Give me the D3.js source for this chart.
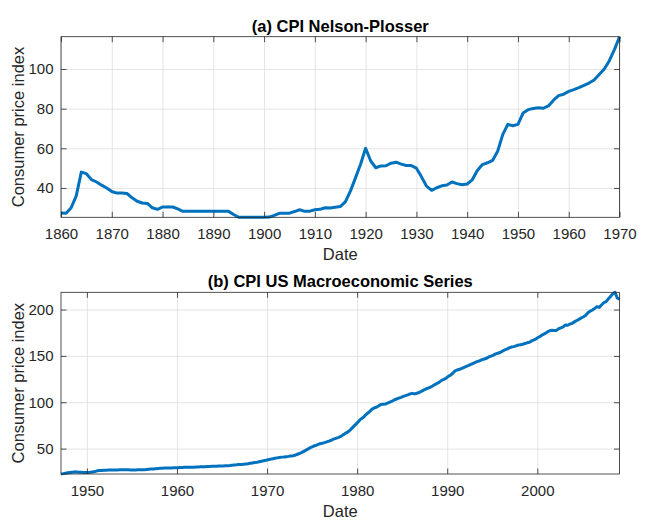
<!DOCTYPE html>
<html>
<head>
<meta charset="utf-8">
<script src="https://cdn.jsdelivr.net/npm/d3@7"></script>
<style>
  html, body { margin: 0; padding: 0; background: #fff; }
  svg { display: block; font-family: "Liberation Sans", Arial, Helvetica, sans-serif; }
</style>
</head>
<body>
<svg id="chart" width="650" height="526"></svg>
<script>
// ---------------- DATA ----------------
// (a) Nelson-Plosser annual CPI, 1860..1970
const npStartYear = 1860;
const npCPI = [
  27.4, 27.2, 30.0, 36.0, 48.0, 47.2, 44.2, 43.0, 41.4, 40.0,   // 1860-1869
  38.2, 37.4, 37.4, 37.2, 35.0, 33.3, 32.4, 32.2, 30.0, 29.2,   // 1870-1879
  30.4, 30.4, 30.4, 29.4, 28.2, 28.2, 28.2, 28.2, 28.2, 28.2,   // 1880-1889
  28.2, 28.2, 28.2, 28.2, 26.6, 25.2, 25.2, 25.2, 25.2, 25.2,   // 1890-1899
  25.2, 25.3, 26.2, 27.2, 27.2, 27.3, 28.1, 29.0, 28.2, 28.3,   // 1900-1909
  29.0, 29.2, 30.0, 29.9, 30.3, 30.6, 33.0, 38.4, 45.1, 52.0,   // 1910-1919
  60.0, 53.6, 50.2, 51.1, 51.2, 52.5, 53.0, 52.0, 51.3, 51.3,   // 1920-1929
  50.0, 45.6, 40.9, 38.8, 40.1, 41.1, 41.5, 43.0, 42.2, 41.6,   // 1930-1939
  42.0, 44.1, 48.8, 51.8, 52.7, 53.9, 58.5, 66.9, 72.1, 71.4,   // 1940-1949
  72.1, 77.8, 79.5, 80.1, 80.5, 80.2, 81.4, 84.3, 86.6, 87.3,   // 1950-1959
  88.7, 89.6, 90.6, 91.7, 92.9, 94.5, 97.2, 100.0, 104.2, 109.8,// 1960-1969
  116.3                                                          // 1970
];
const npXTicks = [1860, 1870, 1880, 1890, 1900, 1910, 1920, 1930, 1940, 1950, 1960, 1970];
const npYTicks = [40, 60, 80, 100];

// (b) US Macroeconomic series, quarterly CPI, 1947Q1..2009Q1 (Q1..Q4 per row)
const usStartYear = 1947;
const usCPI = [
  22.6, 23.0, 23.5, 24.0,    // 1947
  24.3, 24.6, 24.9, 24.7,    // 1948
  24.5, 24.4, 24.3, 24.3,    // 1949
  24.2, 24.4, 24.8, 25.2,    // 1950
  26.0, 26.3, 26.4, 26.6,    // 1951
  26.7, 26.8, 26.9, 26.9,    // 1952
  26.9, 27.0, 27.1, 27.1,    // 1953
  27.2, 27.1, 27.1, 27.0,    // 1954
  27.0, 27.0, 27.1, 27.1,    // 1955
  27.1, 27.3, 27.5, 27.7,    // 1956
  27.9, 28.1, 28.3, 28.4,    // 1957
  28.7, 28.9, 29.0, 29.0,    // 1958
  29.1, 29.2, 29.3, 29.4,    // 1959
  29.4, 29.6, 29.7, 29.8,    // 1960
  29.9, 29.9, 30.0, 30.0,    // 1961
  30.1, 30.2, 30.3, 30.4,    // 1962
  30.5, 30.6, 30.7, 30.9,    // 1963
  31.0, 31.0, 31.1, 31.2,    // 1964
  31.3, 31.5, 31.6, 31.7,    // 1965
  32.0, 32.3, 32.5, 32.8,    // 1966
  32.9, 33.1, 33.4, 33.7,    // 1967
  34.1, 34.5, 34.9, 35.3,    // 1968
  35.8, 36.4, 36.9, 37.4,    // 1969
  38.0, 38.6, 39.0, 39.6,    // 1970
  40.0, 40.4, 40.8, 41.0,    // 1971
  41.3, 41.6, 42.0, 42.3,    // 1972
  42.9, 43.9, 44.9, 45.9,    // 1973
  47.3, 48.6, 50.0, 51.4,    // 1974
  52.5, 53.3, 54.3, 55.3,    // 1975
  55.8, 56.5, 57.3, 58.1,    // 1976
  59.0, 60.2, 61.1, 61.9,    // 1977
  62.9, 64.5, 65.9, 67.5,    // 1978
  69.1, 71.5, 74.0, 76.4,    // 1979
  79.0, 81.7, 83.2, 85.6,    // 1980
  87.9, 89.8, 92.3, 93.8,    // 1981
  94.6, 96.0, 97.6, 97.9,    // 1982
  98.0, 99.1, 100.1, 101.1,  // 1983
  102.5, 103.5, 104.4, 105.3,// 1984
  106.3, 107.2, 107.9, 109.0,// 1985
  109.6, 109.0, 109.7, 110.5,// 1986
  111.8, 113.1, 114.3, 115.3,// 1987
  116.2, 117.6, 119.1, 120.3,// 1988
  121.7, 123.6, 124.6, 125.9,// 1989
  128.0, 129.3, 131.5, 133.8,// 1990
  134.8, 135.6, 136.6, 137.7,// 1991
  138.7, 139.7, 140.8, 142.0,// 1992
  143.1, 144.1, 144.8, 146.0,// 1993
  146.7, 147.5, 148.9, 149.8,// 1994
  150.9, 152.1, 152.9, 153.7,// 1995
  155.1, 156.4, 157.3, 158.7,// 1996
  159.6, 160.0, 160.8, 161.7,// 1997
  162.0, 162.5, 163.4, 164.1,// 1998
  164.7, 166.2, 167.2, 168.4,// 1999
  170.1, 171.4, 173.0, 174.2,// 2000
  175.9, 177.1, 177.6, 177.5,// 2001
  177.5, 179.3, 180.3, 181.3,// 2002
  183.4, 183.1, 184.4, 185.1,// 2003
  186.7, 188.2, 189.4, 191.0,// 2004
  192.2, 193.7, 196.6, 198.4,// 2005
  199.5, 201.3, 203.2, 202.3,// 2006
  204.9, 207.3, 208.5, 211.4,// 2007
  214.0, 216.9, 218.6, 212.5,// 2008
  211.0                      // 2009
];
const usXTicks = [1950, 1960, 1970, 1980, 1990, 2000];
const usYTicks = [50, 100, 150, 200];

const titles = ["(a) CPI Nelson-Plosser", "(b) CPI US Macroeconomic Series"];
const xLabel = "Date";
const yLabel = "Consumer price index";

// ---------------- DRAW ----------------
const npSeries = npCPI.map((v, i) => ({ t: npStartYear + i, v }));
const usSeries = usCPI.map((v, i) => ({ t: usStartYear + Math.floor(i / 4) + ((i % 4) + 0.5) / 4, v }));

const svg = d3.select("#chart");
svg.append("rect").attr("width", 650).attr("height", 526).attr("fill", "#fff");

const left = 61, right = 619.5;
const panels = [
  { series: npSeries, xTicks: npXTicks, yTicks: npYTicks, top: 36.7, bottom: 217.3, title: titles[0] },
  { series: usSeries, xTicks: usXTicks, yTicks: usYTicks, top: 292.3, bottom: 474, title: titles[1] }
];

const axisColor = "#262626";
const tickFont = 15, labelFont = 16.5;

panels.forEach(p => {
  const x = d3.scaleLinear().domain(d3.extent(p.series, d => d.t)).range([left, right]);
  const y = d3.scaleLinear().domain(d3.extent(p.series, d => d.v)).range([p.bottom, p.top]);
  const h = p.bottom - p.top, w = right - left;
  const g = svg.append("g");

  // grid
  g.append("g").attr("transform", `translate(0,${p.bottom})`)
    .call(d3.axisBottom(x).tickValues(p.xTicks).tickSize(-h).tickFormat(""))
    .call(s => { s.select(".domain").remove(); s.selectAll("line").attr("stroke", "#dedede").attr("stroke-width", 0.8); });
  g.append("g").attr("transform", `translate(${left},0)`)
    .call(d3.axisLeft(y).tickValues(p.yTicks).tickSize(-w).tickFormat(""))
    .call(s => { s.select(".domain").remove(); s.selectAll("line").attr("stroke", "#dedede").attr("stroke-width", 0.8); });

  // line
  g.append("path").datum(p.series)
    .attr("fill", "none").attr("stroke", "#0072BD").attr("stroke-width", 3)
    .attr("stroke-linejoin", "round").attr("stroke-linecap", "butt")
    .attr("d", d3.line().x(d => x(d.t)).y(d => y(d.v)));

  const tl = 5.5;
  // bottom axis with labels
  const ax = g.append("g").attr("transform", `translate(0,${p.bottom})`)
    .call(d3.axisBottom(x).tickValues(p.xTicks).tickSize(-tl).tickPadding(11).tickFormat(d3.format("d")));
  // left axis with labels
  const ay = g.append("g").attr("transform", `translate(${left},0)`)
    .call(d3.axisLeft(y).tickValues(p.yTicks).tickSize(-tl).tickPadding(7.5).tickFormat(d3.format("d")));
  // top & right ticks
  const at = g.append("g").attr("transform", `translate(0,${p.top})`)
    .call(d3.axisTop(x).tickValues(p.xTicks).tickSize(-tl).tickFormat(""));
  const ar = g.append("g").attr("transform", `translate(${right},0)`)
    .call(d3.axisRight(y).tickValues(p.yTicks).tickSize(-tl).tickFormat(""));
  [ax, ay, at, ar].forEach(a => {
    a.select(".domain").remove();
    a.selectAll("line").attr("stroke", axisColor).attr("stroke-width", 0.8);
    a.selectAll("text").attr("fill", axisColor).attr("font-size", tickFont)
      .attr("font-family", "'Liberation Sans', Arial, sans-serif");
  });
  // box
  g.append("rect").attr("x", left).attr("y", p.top).attr("width", w).attr("height", h)
    .attr("fill", "none").attr("stroke", axisColor).attr("stroke-width", 0.8);

  // title
  g.append("text").attr("x", (left + right) / 2).attr("y", p.top - 5)
    .attr("text-anchor", "middle").attr("font-weight", "bold").attr("font-size", labelFont)
    .attr("fill", "#000").text(p.title);
  // x label
  g.append("text").attr("x", (left + right) / 2).attr("y", p.bottom + 42.7)
    .attr("text-anchor", "middle").attr("font-size", labelFont).attr("fill", axisColor).text(xLabel);
  // y label
  g.append("text").attr("transform", `translate(24,${(p.top + p.bottom) / 2}) rotate(-90)`)
    .attr("text-anchor", "middle").attr("font-size", labelFont).attr("fill", axisColor).text(yLabel);
});
</script>
</body>
</html>
